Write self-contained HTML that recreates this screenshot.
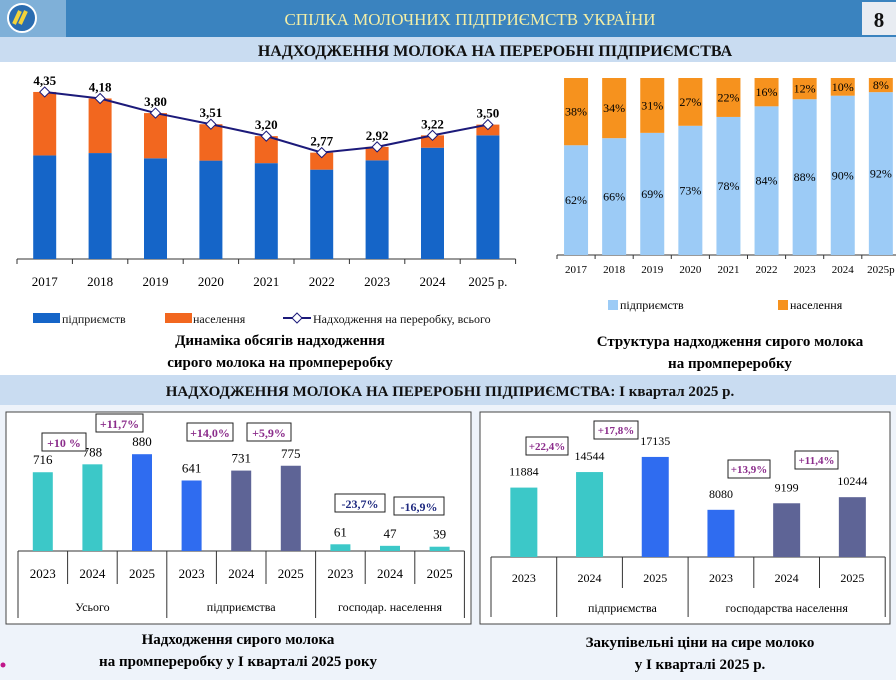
<!DOCTYPE html>
<html><head><meta charset="utf-8"><style>
html,body{margin:0;padding:0;width:896px;height:680px;overflow:hidden;background:#fff;font-family:"Liberation Serif",serif}
svg{display:block}
</style></head><body>
<svg id="s" width="896" height="680" xmlns="http://www.w3.org/2000/svg" font-family="Liberation Serif, serif">
<rect x="0" y="0" width="896" height="680" fill="#ffffff"/>
<g>
<rect x="0" y="0" width="896" height="37" fill="#3a83bf"/>
<rect x="0" y="0" width="66" height="37" fill="#7fb0d8"/>
<circle cx="22" cy="18" r="14" fill="#2a6cb0" stroke="#fff" stroke-width="2"/>
<path d="M14 24 L20 11 M20 24 L26 11" stroke="#f2d23a" stroke-width="4"/>
<text x="470" y="25" text-anchor="middle" font-size="17" fill="#f3eea6">СПІЛКА  МОЛОЧНИХ  ПІДПРИЄМСТВ  УКРАЇНИ</text>
<rect x="862" y="2" width="34" height="33" fill="#e8ecf2"/>
<text x="879" y="27" text-anchor="middle" font-size="21" font-weight="bold" fill="#111">8</text>
</g>
<rect x="0" y="37" width="896" height="25" fill="#c9dcf1"/>
<text x="495" y="56" text-anchor="middle" font-size="16" font-weight="bold" fill="#111">НАДХОДЖЕННЯ МОЛОКА НА ПЕРЕРОБНІ ПІДПРИЄМСТВА</text>
<rect x="0" y="375" width="896" height="30" fill="#c9dcf1"/>
<text x="450" y="396" text-anchor="middle" font-size="15" font-weight="bold" fill="#111">НАДХОДЖЕННЯ МОЛОКА НА ПЕРЕРОБНІ ПІДПРИЄМСТВА:  І  квартал 2025 р.</text>
<rect x="0" y="405" width="896" height="275" fill="#eef3fa"/>
<rect x="6" y="412" width="465" height="212" fill="#fff" stroke="#444" stroke-width="1"/>
<rect x="480" y="412" width="410" height="212" fill="#fff" stroke="#444" stroke-width="1"/>
<g id="c1"></g><g id="c2"></g><g id="c3"></g><g id="c4"></g>
<rect x="33" y="313" width="27" height="10" fill="#1565c8"/>
<text x="62" y="323" font-size="12" fill="#111">підприємств</text>
<rect x="165" y="313" width="27" height="10" fill="#f2671f"/>
<text x="193" y="323" font-size="12" fill="#111">населення</text>
<line x1="283" y1="318" x2="311" y2="318" stroke="#1c1a7a" stroke-width="2"/>
<path d="M297 313 L302 318 L297 323 L292 318Z" fill="#fff" stroke="#1c1a7a"/>
<text x="313" y="323" font-size="12" fill="#111">Надходження на переробку, всього</text>
<text x="280" y="345" text-anchor="middle" font-size="15" font-weight="bold">Динаміка обсягів надходження</text>
<text x="280" y="367" text-anchor="middle" font-size="15" font-weight="bold">сирого молока на промпереробку</text>
<rect x="608" y="300" width="10" height="10" fill="#9ccbf6"/>
<text x="620" y="309" font-size="12">підприємств</text>
<rect x="778" y="300" width="10" height="10" fill="#f6921e"/>
<text x="790" y="309" font-size="12">населення</text>
<text x="730" y="346" text-anchor="middle" font-size="15" font-weight="bold">Структура надходження сирого молока</text>
<text x="730" y="368" text-anchor="middle" font-size="15" font-weight="bold">на промпереробку</text>
<text x="238" y="644" text-anchor="middle" font-size="15" font-weight="bold">Надходження сирого молока</text>
<text x="238" y="666" text-anchor="middle" font-size="15" font-weight="bold">на промпереробку у І кварталі 2025 року</text>
<text x="700" y="647" text-anchor="middle" font-size="15" font-weight="bold">Закупівельні ціни на сире молоко</text>
<text x="700" y="669" text-anchor="middle" font-size="15" font-weight="bold">у І кварталі 2025 р.</text>
<circle cx="3" cy="665" r="2.5" fill="#c0168a"/>
</svg>
<script>
const years=['2017','2018','2019','2020','2021','2022','2023','2024','2025 р.'];
const totals=[4.35,4.18,3.80,3.51,3.20,2.77,2.92,3.22,3.50];
const totalLabels=['4,35','4,18','3,80','3,51','3,20','2,77','2,92','3,22','3,50'];
const entShare=[62,66,69,73,78,84,88,90,92];
const hhShare=[38,34,31,27,22,16,12,10,8];
const years2=['2017','2018','2019','2020','2021','2022','2023','2024','2025р'];
const q1Groups=['Усього','підприємства','господар. населення'];
const q1Years=['2023','2024','2025'];
const q1Values=[716,788,880,641,731,775,61,47,39];
const q1Pct=['+10 %','+11,7%','+14,0%','+5,9%','-23,7%','-16,9%'];
const prGroups=['','підприємства','господарства населення'];
const prYears=['2023','2024','2025','2023','2024','2025'];
const prValues=[11884,14544,17135,8080,9199,10244];
const prPct=['+22,4%','+17,8%','+13,9%','+11,4%'];

const NS='http://www.w3.org/2000/svg';
function mk(p,t,a,txt){const e=document.createElementNS(NS,t);for(const k in a)e.setAttribute(k,a[k]);if(txt!=null)e.textContent=txt;p.appendChild(e);return e;}

(function(){
const g=document.getElementById('c1');
const base=259, k=38.4, x0=17, step=55.4, bw=23;
const xc=i=>x0+step*(i+0.5), y=v=>base-v*k;
mk(g,'line',{x1:x0,y1:base,x2:x0+step*9,y2:base,stroke:'#333'});
for(let i=0;i<=9;i++)mk(g,'line',{x1:x0+step*i,y1:base,x2:x0+step*i,y2:base+5,stroke:'#333'});
let pts=[];
totals.forEach((t,i)=>{
 const e=t*entShare[i]/100;
 let r=mk(g,'rect',{x:xc(i)-bw/2,y:y(e),width:bw,height:e*k,fill:'#1565c8'});
 
 
 r=mk(g,'rect',{x:xc(i)-bw/2,y:y(t),width:bw,height:(t-e)*k,fill:'#f2671f'});
 
 
 pts.push(xc(i)+','+y(t));
 const tx=mk(g,'text',{x:xc(i),y:base+27,'text-anchor':'middle','font-size':13},years[i]);
 
 
});
mk(g,'polyline',{points:pts.join(' '),fill:'none',stroke:'#1c1a7a','stroke-width':2});
totals.forEach((t,i)=>{
 const cx=xc(i),cy=y(t);
 const m=mk(g,'path',{d:`M${cx} ${cy-5}L${cx+5} ${cy}L${cx} ${cy+5}L${cx-5} ${cy}Z`,fill:'#fff',stroke:'#1c1a7a'});
 
 
 mk(g,'text',{x:cx,y:cy-7,'text-anchor':'middle','font-size':13,'font-weight':'bold'},totalLabels[i]);
});
})();

(function(){
const g=document.getElementById('c2');
const base=255,top=78,H=base-top,x0=557,step=38.1,bw=24;
const xc=i=>x0+step*(i+0.5);
mk(g,'line',{x1:x0,y1:base,x2:x0+step*9,y2:base,stroke:'#333'});
for(let i=0;i<=9;i++)mk(g,'line',{x1:x0+step*i,y1:base,x2:x0+step*i,y2:base+4,stroke:'#333'});
entShare.forEach((s,i)=>{
 const eh=H*s/100, hh=H*hhShare[i]/100;
 let r=mk(g,'rect',{x:xc(i)-bw/2,y:base-eh,width:bw,height:eh,fill:'#9ccbf6'});
 
 
 r=mk(g,'rect',{x:xc(i)-bw/2,y:base-eh-hh,width:bw,height:hh,fill:'#f6921e'});
 
 
 mk(g,'text',{x:xc(i),y:base-eh*0.5+4,'text-anchor':'middle','font-size':12},s+'%');
 mk(g,'text',{x:xc(i),y:base-eh-hh*0.5+4,'text-anchor':'middle','font-size':12},hhShare[i]+'%');
 mk(g,'text',{x:xc(i),y:base+18,'text-anchor':'middle','font-size':11},years2[i]);
});
})();

(function(){
const g=document.getElementById('c3');
const base=551,k=0.11,x0=18,step=49.6,bw=20;
const cols=['#3cc8c8','#3cc8c8','#2f6cf0','#2f6cf0','#5e6496','#5e6496','#3cc8c8','#3cc8c8','#3cc8c8'];
const xc=i=>x0+step*(i+0.5);
mk(g,'line',{x1:x0,y1:base,x2:x0+step*9,y2:base,stroke:'#333'});
for(let i=0;i<=9;i++){const grp=i%3==0;mk(g,'line',{x1:x0+step*i,y1:base,x2:x0+step*i,y2:grp?618:584,stroke:'#333'});}
q1Values.forEach((v,i)=>{
 const r=mk(g,'rect',{x:xc(i)-bw/2,y:base-v*k,width:bw,height:v*k,fill:cols[i]});
 
 
 mk(g,'text',{x:xc(i),y:base-v*k-8,'text-anchor':'middle','font-size':13},String(v));
 mk(g,'text',{x:xc(i),y:578,'text-anchor':'middle','font-size':13},q1Years[i%3]);
});
q1Groups.forEach((t,j)=>mk(g,'text',{x:x0+step*(3*j+1.5),y:611,'text-anchor':'middle','font-size':12},t));
const boxes=[[42,433,44],[96,414,47],[187,423,46],[247,423,44],[335,494,50],[394,497,50]];
q1Pct.forEach((p,i)=>{
 const b=boxes[i];
 mk(g,'rect',{x:b[0],y:b[1],width:b[2],height:18,fill:'#fff',stroke:'#222'});
 mk(g,'text',{x:b[0]+b[2]/2,y:b[1]+14,'text-anchor':'middle','font-size':12,'font-weight':'bold',fill:p[0]=='-'?'#1f2a80':'#8b2c8b'},p);
});
})();

(function(){
const g=document.getElementById('c4');
const base=557,k=0.00584,x0=491,step=65.7,bw=27;
const cols=['#3cc8c8','#3cc8c8','#2f6cf0','#2f6cf0','#5e6496','#5e6496'];
const xc=i=>x0+step*(i+0.5);
mk(g,'line',{x1:x0,y1:base,x2:x0+step*6,y2:base,stroke:'#333'});
for(let i=0;i<=6;i++){const grp=(i==0||i==1||i==3||i==6);mk(g,'line',{x1:x0+step*i,y1:base,x2:x0+step*i,y2:grp?617:588,stroke:'#333'});}
prValues.forEach((v,i)=>{
 const r=mk(g,'rect',{x:xc(i)-bw/2,y:base-v*k,width:bw,height:v*k,fill:cols[i]});
 
 
 mk(g,'text',{x:xc(i),y:base-v*k-12,'text-anchor':'middle','font-size':12},String(v));
 mk(g,'text',{x:xc(i),y:582,'text-anchor':'middle','font-size':12},prYears[i]);
});
mk(g,'text',{x:x0+step*2,y:612,'text-anchor':'middle','font-size':12},prGroups[1]);
mk(g,'text',{x:x0+step*4.5,y:612,'text-anchor':'middle','font-size':12},prGroups[2]);
const boxes=[[526,437,42],[594,421,44],[728,460,42],[795,451,43]];
prPct.forEach((p,i)=>{
 const b=boxes[i];
 mk(g,'rect',{x:b[0],y:b[1],width:b[2],height:18,fill:'#fff',stroke:'#222'});
 mk(g,'text',{x:b[0]+b[2]/2,y:b[1]+13,'text-anchor':'middle','font-size':11,'font-weight':'bold',fill:'#8b2c8b'},p);
});
})();
</script>
</body></html>
